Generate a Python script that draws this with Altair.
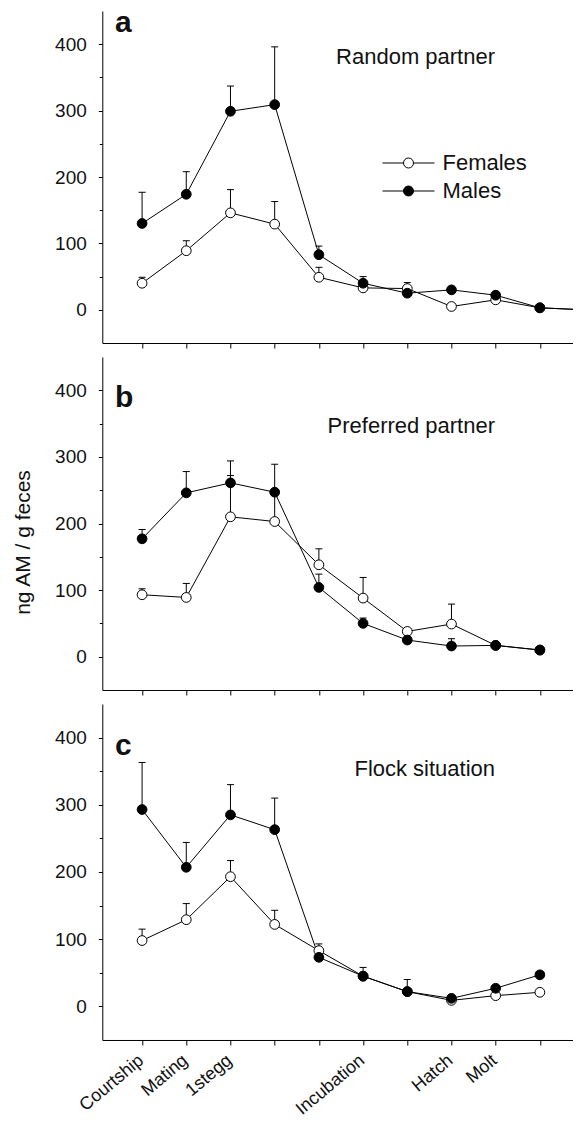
import altair as alt
import pandas as pd

# ---------------- data ----------------
stages = [1, 2, 3, 4, 5, 6, 7, 8, 9, 10]
stage_names = ["Courtship", "Mating", "1stegg", "", "", "Incubation", "", "Hatch", "Molt", ""]

panel_letters = ["a", "b", "c"]
panel_titles = ["Random partner", "Preferred partner", "Flock situation"]
sexes = ["Females", "Males"]

# Panel a (Random partner); the 11th value runs off the right edge of the frame
a_x = [1, 2, 3, 4, 5, 6, 7, 8, 9, 10, 11]
a_fem = [40, 89, 146, 129, 49, 33, 32, 5, 15, 3, 0]
a_fem_top = [49, 104, 181, 163, 64, None, 41, None, None, None, None]
a_mal = [130, 174, 299, 309, 83, 40, 25, 30, 22, 3, 0]
a_mal_top = [177, 208, 337, 396, 96, 50, None, None, None, None, None]

# Panel b (Preferred partner)
b_x = [1, 2, 3, 4, 5, 6, 7, 8, 9, 10]
b_fem = [93, 89, 210, 203, 138, 88, 38, 49, 17, 10]
b_fem_top = [102, 110, 272, 245, 162, 119, None, 79, None, None]
b_mal = [177, 246, 261, 247, 104, 50, 25, 16, 17, 10]
b_mal_top = [191, 278, 294, 289, 124, 58, None, 27, None, None]

# Panel c (Flock situation)
c_x = [1, 2, 3, 4, 5, 6, 7, 8, 9, 10]
c_fem = [98, 129, 193, 122, 83, 45, 22, 9, 16, 21]
c_fem_top = [115, 153, 217, 143, 93, None, None, None, None, None]
c_mal = [293, 207, 285, 263, 73, 45, 22, 12, 27, 47]
c_mal_top = [363, 244, 330, 310, None, 58, 40, None, None, None]

panel_data = [
    (a_x, a_fem, a_fem_top, a_mal, a_mal_top),
    (b_x, b_fem, b_fem_top, b_mal, b_mal_top),
    (c_x, c_fem, c_fem_top, c_mal, c_mal_top),
]

FONT = "Liberation Sans"
W = 471
HEIGHTS = [332, 333, 336]
X_DOMAIN = [0.1, 10.756]
Y_DOMAIN = [-50, 450]

label_expr = "".join(
    f"datum.value === {s} ? '{n}' : " for s, n in zip(stages, stage_names) if n
) + "''"

legend_path = "M-5.2,0L-1,0M1,0L5.2,0M-1,0A1,1,0,1,1,1,0A1,1,0,1,1,-1,0Z"


def make_df(xs, fem, fem_top, mal, mal_top):
    rows = []
    for sex, vals, tops in (("Females", fem, fem_top), ("Males", mal, mal_top)):
        for x, v, t in zip(xs, vals, tops):
            rows.append({"x": x, "mean": v, "top": t, "sex": sex})
    return pd.DataFrame(rows)


def panel(i, bottom):
    df = make_df(*panel_data[i])
    pts = df[df["x"] <= 10]
    err = df.dropna(subset=["top"])

    x_axis_kw = dict(values=stages, tickSize=5, tickColor="black", tickWidth=1,
                     domainColor="black", domainWidth=1, grid=False, title=None)
    if bottom:
        x_axis_kw.update(labels=True, labelExpr=label_expr, labelAngle=-40,
                         labelAlign="right", labelBaseline="top", labelFontSize=18,
                         labelFont=FONT, labelColor="#111111", labelPadding=6,
                         labelOffset=-7,
                         labelOverlap=False, labelFlush=False, labelBound=False)
    else:
        x_axis_kw.update(labels=False)
    x_enc = alt.X("x:Q", scale=alt.Scale(domain=X_DOMAIN, nice=False, zero=False),
                  axis=alt.Axis(**x_axis_kw))

    y_axis_kw = dict(values=[0, 50, 100, 150, 200, 250, 300, 350, 400],
                     labelExpr="datum.value % 100 === 0 ? datum.label : ''",
                     tickSize={"condition": {"test": "datum.value % 100 === 0", "value": 4}, "value": 3},
                     tickColor="black", tickWidth=1, domainColor="black", domainWidth=1,
                     grid=False, labelFontSize=19, labelFont=FONT, labelColor="#111111",
                     labelPadding=12, labelOverlap=False, labelFlush=False,
                     minExtent=48, maxExtent=48)
    if i == 1:
        y_axis_kw.update(title="ng AM / g feces", titleFontSize=21, titleFont=FONT,
                         titleFontWeight="normal", titleColor="#111111", titlePadding=21,
                         titleY=185)
    else:
        y_axis_kw.update(title=None)
    y_scale = alt.Scale(domain=Y_DOMAIN, nice=False, zero=False)
    y_enc = alt.Y("mean:Q", scale=y_scale, axis=alt.Axis(**y_axis_kw))

    rules = alt.Chart(err).mark_rule(color="black", strokeWidth=1).encode(
        x=x_enc, y=y_enc, y2="top:Q")
    caps = alt.Chart(err).mark_tick(color="black", thickness=1, size=7,
                                    orient="horizontal", opacity=1).encode(
        x=x_enc, y=alt.Y("top:Q", scale=y_scale))
    lines = alt.Chart(df).mark_line(color="black", strokeWidth=1, clip=True).encode(
        x=x_enc, y=y_enc, detail="sex:N", order="x:Q")

    if i == 0:
        legend = alt.Legend(orient="none", legendX=295.2, legendY=141, title=None,
                            symbolType=legend_path, symbolSize=100,
                            symbolStrokeColor="black", symbolStrokeWidth=1,
                            symbolOpacity=1, labelFontSize=22, labelFont=FONT,
                            labelColor="#111111", labelOffset=23, rowPadding=6,
                            padding=0)
    else:
        legend = None
    points = alt.Chart(pts).mark_point(shape="circle", filled=True, stroke="black",
                                       strokeWidth=1, size=95, opacity=1).encode(
        x=x_enc, y=y_enc,
        fill=alt.Fill("sex:N", scale=alt.Scale(domain=sexes, range=["white", "black"]),
                      legend=legend))

    letter_y = [20.5, 49.7, 51][i]
    title_y = [53, 75.7, 72][i]
    letter = alt.Chart(pd.DataFrame({"t": [panel_letters[i]]})).mark_text(
        font=FONT, fontSize=30, fontWeight="bold", align="left", baseline="alphabetic",
        color="#111111").encode(text="t:N", x=alt.value(12.7), y=alt.value(letter_y))
    title = alt.Chart(pd.DataFrame({"t": [panel_titles[i]]})).mark_text(
        font=FONT, fontSize=22, align="right", baseline="alphabetic",
        color="#111111").encode(text="t:N", x=alt.value(392.7), y=alt.value(title_y))

    return alt.layer(rules, caps, lines, points, letter, title).properties(
        width=W, height=HEIGHTS[i])


chart = alt.vconcat(
    panel(0, False), panel(1, False), panel(2, True), spacing=14, bounds="flush"
).resolve_legend(
    fill="independent"
).properties(
    autosize=alt.AutoSizeParams(type="none"),
    padding={"left": 94.3, "top": 3, "right": 0, "bottom": 1105},
).configure(font=FONT).configure_view(stroke=None)

chart.save("out.html", embed_options={"renderer": "svg", "actions": False})
